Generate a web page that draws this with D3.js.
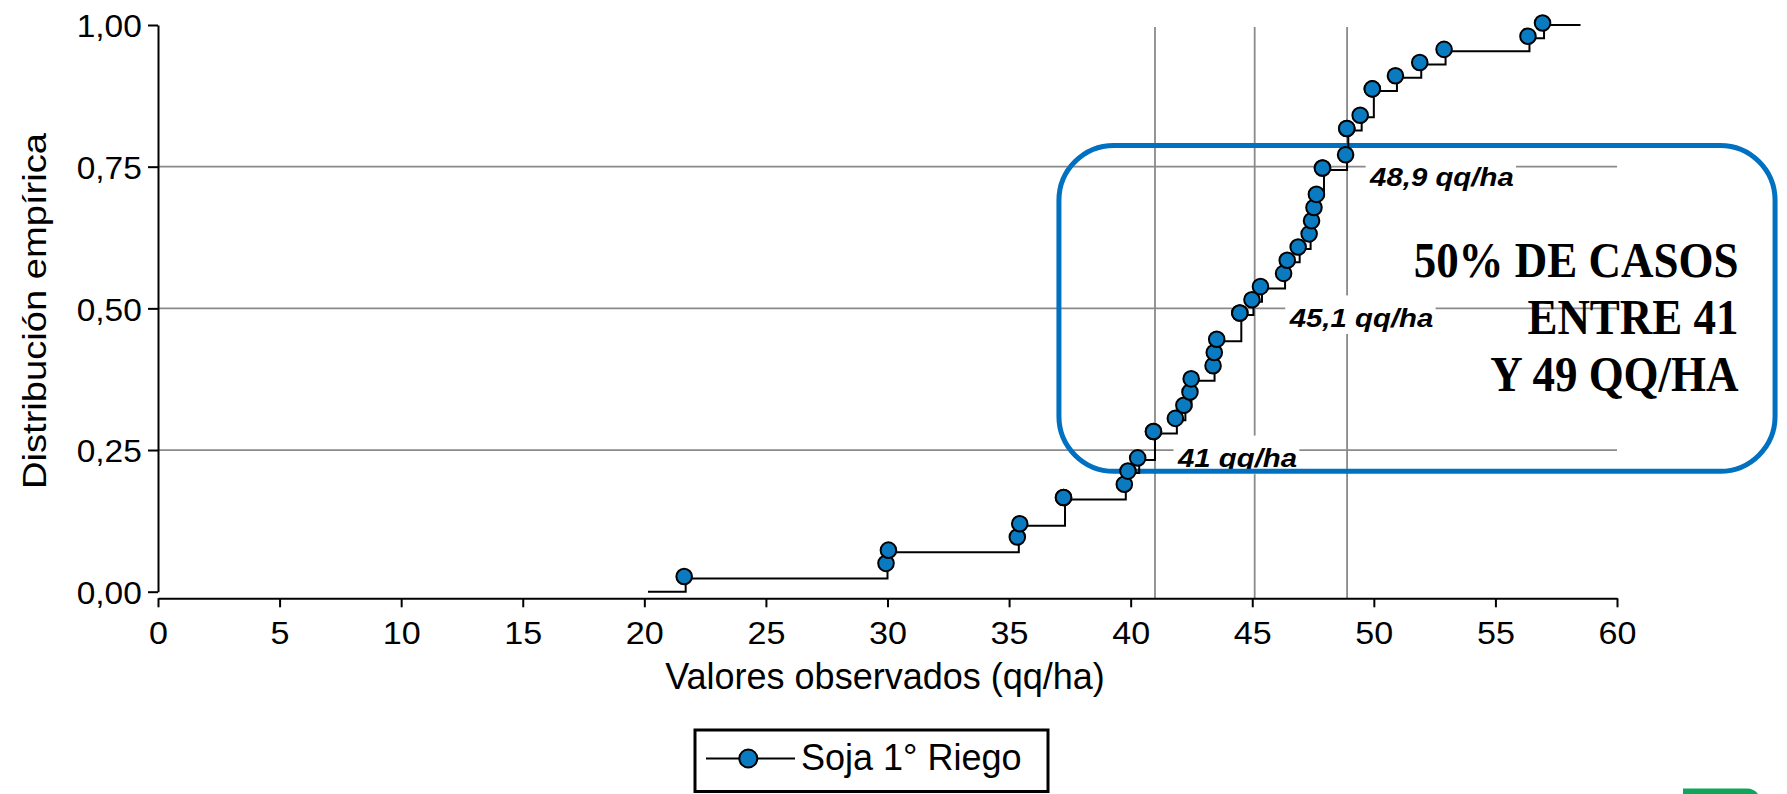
<!DOCTYPE html>
<html><head><meta charset="utf-8">
<script src="https://cdn.jsdelivr.net/npm/d3@7"></script>
<style>html,body{margin:0;padding:0;background:#fff;} svg{display:block;}</style>
</head><body>
<svg id="chart" width="1787" height="794"></svg>
<script>
// ---------- data ----------
const observations = [21.7, 30.0, 30.1, 35.4, 35.5, 37.3, 37.3, 39.8, 39.95, 40.35,
  41.0, 41.0, 41.9, 42.25, 42.5, 42.55, 43.45, 43.5, 43.6, 44.55, 44.55, 45.05, 45.4,
  46.35, 46.5, 46.95, 47.4, 47.5, 47.6, 47.7, 47.95, 47.95, 48.9, 48.95, 48.95, 49.5,
  50.0, 50.0, 50.95, 51.95, 52.95, 56.4, 57.0];
const stepExtent = [20.15, 58.5];
const xTicks = [0, 5, 10, 15, 20, 25, 30, 35, 40, 45, 50, 55, 60];
const yTicks = [0, 0.25, 0.5, 0.75, 1];
const yTickLabels = ["0,00", "0,25", "0,50", "0,75", "1,00"];
const gridLevels = [0.25, 0.5, 0.75];
const quantileValues = [41, 45.1, 48.9];
const quantileLevels = [0.25, 0.5, 0.75];
const quantileLabels = ["41 qq/ha", "45,1 qq/ha", "48,9 qq/ha"];
const seriesName = "Soja 1° Riego";
const xTitle = "Valores observados (qq/ha)";
const yTitle = "Distribución empírica";
const noteLines = ["50% DE CASOS", "ENTRE 41", "Y 49 QQ/HA"];
const noteBoxX = [37.05, 66.5];
const noteBoxY = [0.2125, 0.7875];

// ---------- styles ----------
const markerFill = "#0B7BC1";
const boxBlue = "#0070C0";
const gridColor = "#8a8a8a";
const sans = "'Liberation Sans', Arial, sans-serif";
const labelOffsets = [[23, 17], [35, 18.5], [23, 19.5]];

const svg = d3.select("#chart");
const x = d3.scaleLinear().domain([0, 60]).range([158, 1617]);
const y = d3.scaleLinear().domain([0, 1]).range([591.7, 25]);
const xAxisY = 598.3;

// gridlines
svg.append("g").selectAll("line").data(gridLevels).join("line")
  .attr("x1", x(0)).attr("x2", x(60))
  .attr("y1", d => y(d)).attr("y2", d => y(d))
  .attr("stroke", gridColor).attr("stroke-width", 1.8);
svg.append("g").selectAll("line").data(quantileValues).join("line")
  .attr("x1", d => x(d)).attr("x2", d => x(d))
  .attr("y1", y(1) + 2).attr("y2", xAxisY)
  .attr("stroke", gridColor).attr("stroke-width", 1.8);

// quantile labels with white background
const lab = svg.append("g").selectAll("g").data(quantileValues).join("g")
  .attr("transform", (d, i) => `translate(${x(d) + labelOffsets[i][0]},${y(quantileLevels[i]) + labelOffsets[i][1]}) scale(1.13,1)`);
lab.append("rect").attr("fill", "#fff");
lab.append("text").text((d, i) => quantileLabels[i])
  .attr("font-family", sans).attr("font-size", 26).attr("font-weight", "bold").attr("font-style", "italic")
  .attr("fill", "#000");
lab.each(function() {
  const g = d3.select(this);
  const bb = g.select("text").node().getBBox();
  g.select("rect").attr("x", bb.x - 3).attr("y", bb.y - 8).attr("width", bb.width + 5).attr("height", bb.height + 9.5);
});

// note box
svg.append("rect")
  .attr("x", x(noteBoxX[0])).attr("y", y(noteBoxY[1]))
  .attr("width", x(noteBoxX[1]) - x(noteBoxX[0]))
  .attr("height", y(noteBoxY[0]) - y(noteBoxY[1]))
  .attr("rx", 55).attr("ry", 55)
  .attr("fill", "none").attr("stroke", boxBlue).attr("stroke-width", 5);

const note = svg.append("g").attr("transform", `translate(${x(65)},${y(noteBoxY[1]) + 131.5})`);
note.selectAll("text").data(noteLines).join("text")
  .attr("transform", (d, i) => `translate(0,${i * 57}) scale(0.9,1)`)
  .attr("text-anchor", "end")
  .attr("font-family", "'Liberation Serif', 'Times New Roman', serif")
  .attr("font-weight", "bold").attr("font-size", 50).attr("fill", "#000")
  .text(d => d);

// axes
const yAxis = d3.axisLeft(y).tickValues(yTicks).tickSize(10).tickSizeOuter(0)
  .tickFormat((d, i) => yTickLabels[i]);
const gy = svg.append("g").attr("transform", `translate(${x(0)},0)`).call(yAxis);
gy.select(".domain").attr("stroke-width", 2);
gy.selectAll(".tick line").attr("stroke-width", 2);
gy.selectAll(".tick text")
  .attr("font-family", sans).attr("font-size", 31).attr("fill", "#000")
  .attr("x", -15).attr("dy", "0.38em").attr("transform", "scale(1.08,1)");

const xAxis = d3.axisBottom(x).tickValues(xTicks).tickSize(9).tickSizeOuter(0).tickFormat(d3.format("d"));
const gx = svg.append("g").attr("transform", `translate(0,${xAxisY})`).call(xAxis);
gx.select(".domain").attr("stroke-width", 2);
gx.selectAll(".tick line").attr("stroke-width", 2);
gx.selectAll(".tick text")
  .attr("font-family", sans).attr("font-size", 31).attr("fill", "#000")
  .attr("y", 45.5).attr("dy", 0).attr("transform", "scale(1.1,1)");

// titles
svg.append("text").text(xTitle)
  .attr("x", 885).attr("y", 688.5).attr("text-anchor", "middle")
  .attr("font-family", sans).attr("font-size", 36).attr("fill", "#000");
svg.append("text").text(yTitle)
  .attr("transform", "translate(46,311) rotate(-90)")
  .attr("text-anchor", "middle")
  .attr("font-family", sans).attr("font-size", 33).attr("fill", "#000")
  .attr("textLength", 356).attr("lengthAdjust", "spacingAndGlyphs");

// ECDF
const n = observations.length;
const sorted = observations.slice().sort(d3.ascending);
const uniq = Array.from(new Set(sorted));
const F = v => d3.bisectRight(sorted, v) / n;
const stepPts = [[stepExtent[0], 0], ...uniq.map(v => [v, F(v)]), [stepExtent[1], 1]];
svg.append("path")
  .attr("d", d3.line().x(d => x(d[0])).y(d => y(d[1])).curve(d3.curveStepAfter)(stepPts))
  .attr("fill", "none").attr("stroke", "#000").attr("stroke-width", 2);

svg.append("g").selectAll("circle").data(sorted).join("circle")
  .attr("cx", d => x(d) - 1.5).attr("cy", d => y(F(d)) - 2)
  .attr("r", 7.8).attr("fill", markerFill).attr("stroke", "#000").attr("stroke-width", 2);

// legend
const lg = svg.append("g");
lg.append("rect").attr("x", 695).attr("y", 730).attr("width", 353).attr("height", 61.5)
  .attr("fill", "#fff").attr("stroke", "#000").attr("stroke-width", 3);
lg.append("line").attr("x1", 706).attr("x2", 795).attr("y1", 758.5).attr("y2", 758.5)
  .attr("stroke", "#000").attr("stroke-width", 2);
lg.append("circle").attr("cx", 748.3).attr("cy", 758.5).attr("r", 9)
  .attr("fill", markerFill).attr("stroke", "#000").attr("stroke-width", 2);
lg.append("text").text(seriesName).attr("x", 801).attr("y", 770)
  .attr("font-family", sans).attr("font-size", 36).attr("fill", "#000");

// partial logo at bottom right
svg.append("path").attr("d", "M1683,794 V788.5 H1747 Q1754,788.5 1758,794 Z").attr("fill", "#0FA65B");
</script>
</body></html>
